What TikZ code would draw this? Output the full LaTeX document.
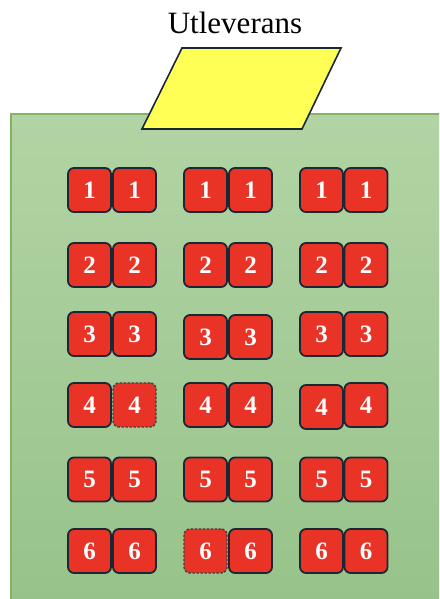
\documentclass[tikz,border=0pt]{standalone}
\usepackage{fontspec}
\setmainfont{Liberation Serif}
\definecolor{tilered}{RGB}{233,51,38}
\definecolor{tileedge}{RGB}{26,40,54}
\definecolor{padtop}{RGB}{178,212,164}
\definecolor{padbot}{RGB}{150,194,137}
\definecolor{padedge}{RGB}{130,180,100}
\definecolor{shelfyellow}{RGB}{255,255,85}

\begin{document}
\begin{tikzpicture}[x=1pt, y=1pt,
  tile/.style={draw=tileedge, fill=tilered, line width=1.8pt, rounded corners=6pt, minimum width=43pt, minimum height=44pt, inner sep=0pt, text=white, font={\fontsize{25}{27}\selectfont\bfseries}},
  spare/.style={tile, draw=black!75, dash pattern=on 2.5pt off 1.5pt, line width=1.4pt}
]
  \useasboundingbox (0,0) rectangle (439,599);
  \clip (0,0) rectangle (439,599);

  \draw[draw=padedge, line width=1.2pt, top color=padtop, bottom color=padbot] (11,485) rectangle (460,-20);
  \draw[fill=shelfyellow, draw=tileedge, line width=1.6pt] (182,551) -- (341,551) -- (302,470) -- (142,470) -- cycle;
  \node[font={\fontsize{31}{34}\selectfont}, anchor=base] (title) at (235,565) {Utleverans};

  \node[tile] (k1a) at (89.5,409) {1};   \node[tile] (k1b) at (134.5,409) {1};
  \node[tile] (k1c) at (205.5,409) {1};  \node[tile] (k1d) at (250.5,409) {1};
  \node[tile] (k1e) at (321.5,409) {1};  \node[tile] (k1f) at (366,409) {1};

  \node[tile] (k2a) at (89.5,334) {2};   \node[tile] (k2b) at (134.5,334) {2};
  \node[tile] (k2c) at (205.5,334) {2};  \node[tile] (k2d) at (250.5,334) {2};
  \node[tile] (k2e) at (321.5,334) {2};  \node[tile] (k2f) at (366,334) {2};

  \node[tile] (k3a) at (89.5,265) {3};   \node[tile] (k3b) at (134.5,265) {3};
  \node[tile] (k3c) at (205.5,262) {3};  \node[tile] (k3d) at (250.5,262) {3};
  \node[tile] (k3e) at (321.5,265) {3};  \node[tile] (k3f) at (366,265) {3};

  \node[tile] (k4a) at (89.5,194) {4};   \node[spare] (k4b) at (134.5,194) {4};
  \node[tile] (k4c) at (205.5,194) {4};  \node[tile] (k4d) at (250.5,194) {4};
  \node[tile] (k4e) at (321.5,192) {4};  \node[tile] (k4f) at (366,194) {4};

  \node[tile] (k5a) at (89.5,119.5) {5};   \node[tile] (k5b) at (134.5,119.5) {5};
  \node[tile] (k5c) at (205.5,119.5) {5};  \node[tile] (k5d) at (250.5,119.5) {5};
  \node[tile] (k5e) at (321.5,119.5) {5};  \node[tile] (k5f) at (366,119.5) {5};

  \node[tile] (k6a) at (89.5,48) {6};    \node[tile] (k6b) at (134.5,48) {6};
  \node[spare] (k6c) at (205.5,48) {6};  \node[tile] (k6d) at (250.5,48) {6};
  \node[tile] (k6e) at (321.5,48) {6};   \node[tile] (k6f) at (366,48) {6};
\end{tikzpicture}
\end{document}
